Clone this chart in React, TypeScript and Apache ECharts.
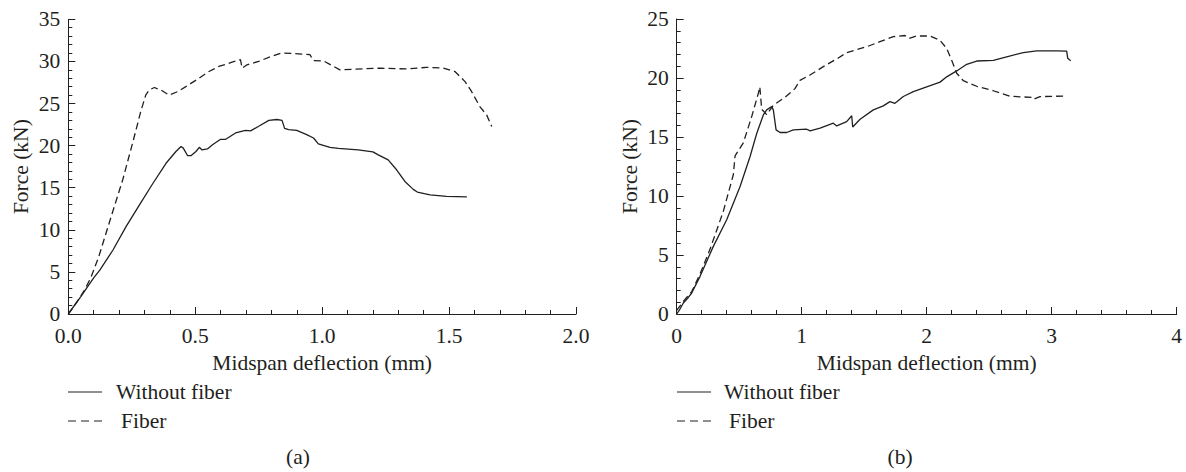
import React, { useEffect, useRef } from "react";
import * as echarts from "echarts";

const INK = "#231f20";
const FONT = "Liberation Serif";
const FS = 21.5;

const seriesNames = ["Without fiber", "Fiber"];
const xTitle = "Midspan deflection (mm)";
const yTitle = "Force (kN)";
const captions = ["(a)", "(b)"];

// Panel (a)
const aWithout: number[][] = [
  [0, 0], [0.05, 2.1], [0.1, 4.3], [0.124, 5.2], [0.176, 7.6], [0.228, 10.4], [0.281, 13.0], [0.333, 15.5],
  [0.385, 17.9], [0.424, 19.3], [0.444, 19.9], [0.453, 19.7], [0.47, 18.8], [0.483, 18.8], [0.503, 19.3],
  [0.516, 19.8], [0.526, 19.5], [0.548, 19.6], [0.568, 20.1], [0.6, 20.75], [0.62, 20.75], [0.659, 21.5],
  [0.698, 21.8], [0.718, 21.75], [0.75, 22.3], [0.79, 23.0], [0.822, 23.1], [0.842, 23.0], [0.852, 22.05],
  [0.868, 21.9], [0.9, 21.8], [0.939, 21.3], [0.966, 20.9], [0.985, 20.2], [1.031, 19.8], [1.064, 19.66],
  [1.142, 19.5], [1.2, 19.26], [1.221, 18.9], [1.26, 18.3], [1.294, 17.1], [1.326, 15.74], [1.359, 14.8],
  [1.375, 14.48], [1.425, 14.16], [1.49, 13.96], [1.57, 13.92],
];
const aFiber: number[][] = [
  [0, 0], [0.04, 1.7], [0.065, 2.9], [0.09, 4.4], [0.12, 6.8], [0.165, 11.2], [0.215, 16.0], [0.255, 20.5],
  [0.285, 24.0], [0.305, 26.0], [0.319, 26.6], [0.339, 26.9], [0.365, 26.6], [0.397, 26.0], [0.43, 26.4],
  [0.463, 27.0], [0.515, 28.0], [0.554, 28.8], [0.593, 29.4], [0.645, 29.9], [0.678, 30.2], [0.685, 29.2],
  [0.704, 29.6], [0.75, 30.0], [0.8, 30.6], [0.84, 31.0], [0.906, 30.9], [0.952, 30.8], [0.965, 30.1],
  [1.005, 30.06], [1.07, 29.0], [1.228, 29.2], [1.333, 29.1], [1.412, 29.3], [1.477, 29.2], [1.523, 28.8],
  [1.563, 27.6], [1.589, 26.4], [1.622, 24.6], [1.648, 23.65], [1.668, 22.27],
];

// Panel (b)
const bWithout: number[][] = [
  [0, 0], [0.02, 0.3], [0.053, 0.93], [0.093, 1.4], [0.12, 1.78], [0.187, 3.19], [0.293, 5.73], [0.4, 7.99],
  [0.507, 10.8], [0.587, 13.35], [0.64, 15.3], [0.693, 16.87], [0.72, 17.3], [0.76, 17.58], [0.773, 17.3],
  [0.795, 15.6], [0.827, 15.38], [0.88, 15.38], [0.933, 15.6], [1.04, 15.66], [1.067, 15.52], [1.147, 15.75],
  [1.253, 16.17], [1.28, 15.94], [1.36, 16.3], [1.4, 16.8], [1.408, 15.85], [1.467, 16.5], [1.573, 17.3],
  [1.653, 17.64], [1.706, 18.0], [1.746, 17.85], [1.813, 18.43], [1.893, 18.85], [2.0, 19.25], [2.107, 19.65],
  [2.16, 20.1], [2.24, 20.6], [2.32, 21.16], [2.4, 21.44], [2.533, 21.5], [2.64, 21.8], [2.773, 22.15],
  [2.88, 22.3], [3.04, 22.3], [3.12, 22.28], [3.128, 21.67], [3.152, 21.47],
];
const bFiber: number[][] = [
  [0, 0.3], [0.053, 1.07], [0.12, 1.9], [0.187, 3.4], [0.267, 5.5], [0.373, 8.7], [0.453, 11.8], [0.467, 13.4],
  [0.533, 14.5], [0.6, 16.73], [0.653, 18.7], [0.665, 19.25], [0.68, 17.35], [0.72, 16.9], [0.773, 17.7],
  [0.866, 18.36], [0.946, 19.1], [0.986, 19.8], [1.066, 20.25], [1.173, 20.96], [1.293, 21.7], [1.36, 22.15],
  [1.52, 22.65], [1.626, 23.08], [1.733, 23.5], [1.826, 23.6], [1.858, 23.36], [1.92, 23.56], [2.026, 23.56],
  [2.106, 23.2], [2.16, 22.5], [2.2, 21.5], [2.24, 20.4], [2.293, 19.77], [2.4, 19.3], [2.533, 18.92],
  [2.666, 18.45], [2.84, 18.36], [2.853, 18.2], [2.906, 18.42], [3.106, 18.47],
];

const xRanges = [
  { max: 2, interval: 0.5, decimals: 1 },
  { max: 4, interval: 1, decimals: 0 },
];
const yRanges = [
  { max: 35, interval: 5 },
  { max: 25, interval: 5 },
];

export default function App() {
  const ref = useRef<HTMLDivElement>(null);
  useEffect(() => {
    const chart = echarts.init(ref.current!, null, { renderer: "svg" });
    const textStyle = { fontFamily: FONT, fontSize: FS, color: INK };
    const lineCol = { color: INK, width: 1 };

    const xAxis = xRanges.map((r, i) => ({
      type: "value",
      gridIndex: i,
      min: 0,
      max: r.max,
      interval: r.interval,
      axisLine: { show: true, lineStyle: lineCol },
      axisTick: { show: true, inside: true, length: 7, lineStyle: lineCol },
      minorTick: { show: true, splitNumber: 5, length: 4, lineStyle: lineCol },
      splitLine: { show: false },
      minorSplitLine: { show: false },
      axisLabel: {
        ...textStyle,
        margin: 11,
        formatter: (v: number) => v.toFixed(r.decimals),
      },
      name: xTitle,
      nameLocation: "middle",
      nameGap: 38,
      nameTextStyle: textStyle,
    }));
    const yAxis = yRanges.map((r, i) => ({
      type: "value",
      gridIndex: i,
      min: 0,
      max: r.max,
      interval: r.interval,
      axisLine: { show: true, lineStyle: lineCol },
      axisTick: { show: true, inside: true, length: 7, lineStyle: lineCol },
      minorTick: { show: true, splitNumber: 5, length: 4, lineStyle: lineCol },
      splitLine: { show: false },
      minorSplitLine: { show: false },
      axisLabel: { ...textStyle, margin: 8, lineHeight: 19 },
      name: yTitle,
      nameLocation: "middle",
      nameGap: 36,
      nameTextStyle: textStyle,
    }));

    const mk = (name: string, data: number[][], idx: number, dashed: boolean) => ({
      type: "line",
      name,
      xAxisIndex: idx,
      yAxisIndex: idx,
      data,
      symbol: "none",
      showSymbol: false,
      silent: true,
      lineStyle: { color: INK, width: 1.3, type: dashed ? [7, 4] : "solid" },
    });

    const legendItems = [
      { lineX: 68, textX: 116, capX: 298 },
      { lineX: 677, textX: 724, capX: 900 },
    ];
    const graphic: any[] = [];
    legendItems.forEach((l, i) => {
      graphic.push(
        { type: "line", shape: { x1: l.lineX, y1: 392, x2: l.lineX + 34, y2: 392 }, style: { stroke: INK, lineWidth: 1.2 } },
        { type: "text", x: l.textX, y: 392, style: { text: seriesNames[0], fontFamily: FONT, fontSize: FS, fill: INK, verticalAlign: "middle" } },
        { type: "line", shape: { x1: l.lineX, y1: 421, x2: l.lineX + 34, y2: 421 }, style: { stroke: INK, lineWidth: 1.2, lineDash: [8, 5] } },
        { type: "text", x: l.textX + 5, y: 421, style: { text: seriesNames[1], fontFamily: FONT, fontSize: FS, fill: INK, verticalAlign: "middle" } },
        { type: "text", x: l.capX, y: 457, style: { text: captions[i], fontFamily: FONT, fontSize: FS, fill: INK, align: "center", verticalAlign: "middle" } },
      );
    });

    chart.setOption({
      animation: false,
      backgroundColor: "#ffffff",
      textStyle: { fontFamily: FONT },
      grid: [
        { left: 68.3, top: 19.3, width: 507.7, height: 294.7 },
        { left: 676.7, top: 19, width: 500, height: 295 },
      ],
      xAxis,
      yAxis,
      series: [
        mk(seriesNames[0], aWithout, 0, false),
        mk(seriesNames[1], aFiber, 0, true),
        mk(seriesNames[0], bWithout, 1, false),
        mk(seriesNames[1], bFiber, 1, true),
      ],
      graphic,
    });
    return () => chart.dispose();
  }, []);
  return (
    <div
      ref={ref}
      style={{ position: "absolute", left: 0, top: 0, width: 1186, height: 472, background: "#fff" }}
    />
  );
}
